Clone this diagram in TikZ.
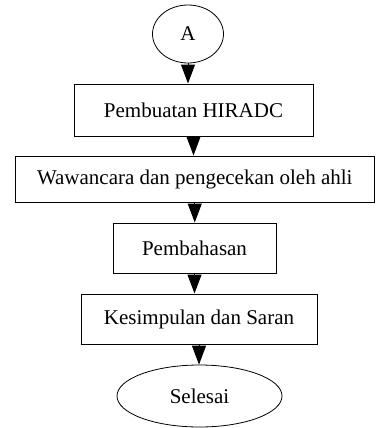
\documentclass[tikz,border=0pt]{standalone}
\usepackage{fontspec}
\setmainfont{Liberation Serif}
\usetikzlibrary{arrows.meta,shapes.geometric}
\tikzset{
  box/.style={draw,line width=0.5pt,inner sep=0pt,font=\fontsize{10.5}{12}\selectfont},
  term/.style={draw,ellipse,line width=0.4pt,inner sep=0pt,font=\fontsize{10.5}{12}\selectfont},
  flow/.style={line width=0.5pt,-{Triangle[length=9.5pt,width=7pt]}}
}

\begin{document}
\begin{tikzpicture}[x=0.5pt,y=-0.5pt]
            \useasboundingbox (0,0) rectangle (375,428);

            \node[term,minimum width=35.5pt,minimum height=29pt] (mulai) at (188,34) {A};
            \node[box,minimum width=119.5pt,minimum height=26pt] (hiradc) at (193.5,110) {Pembuatan HIRADC};
            \node[box,minimum width=179.5pt,minimum height=23pt] (wawancara) at (194.75,179) {Wawancara dan pengecekan oleh ahli};
            \node[box,minimum width=81.5pt,minimum height=25pt] (bahas) at (194.5,248) {Pembahasan};
            \node[box,minimum width=118pt,minimum height=25pt] (simpul) at (199,319) {Kesimpulan dan Saran};
            \node[term,minimum width=82.5pt,minimum height=31pt] (selesai) at (199.5,396) {Selesai};

            \draw[flow] (mulai) -- (mulai |- hiradc.north);
            \draw[flow] (hiradc) -- (hiradc |- wawancara.north);
            \draw[flow] (wawancara) -- (wawancara |- bahas.north);
            \draw[flow] (bahas) -- (bahas |- simpul.north);
            \draw[flow] (simpul) -- (simpul |- selesai.north);
\end{tikzpicture}
\end{document}
